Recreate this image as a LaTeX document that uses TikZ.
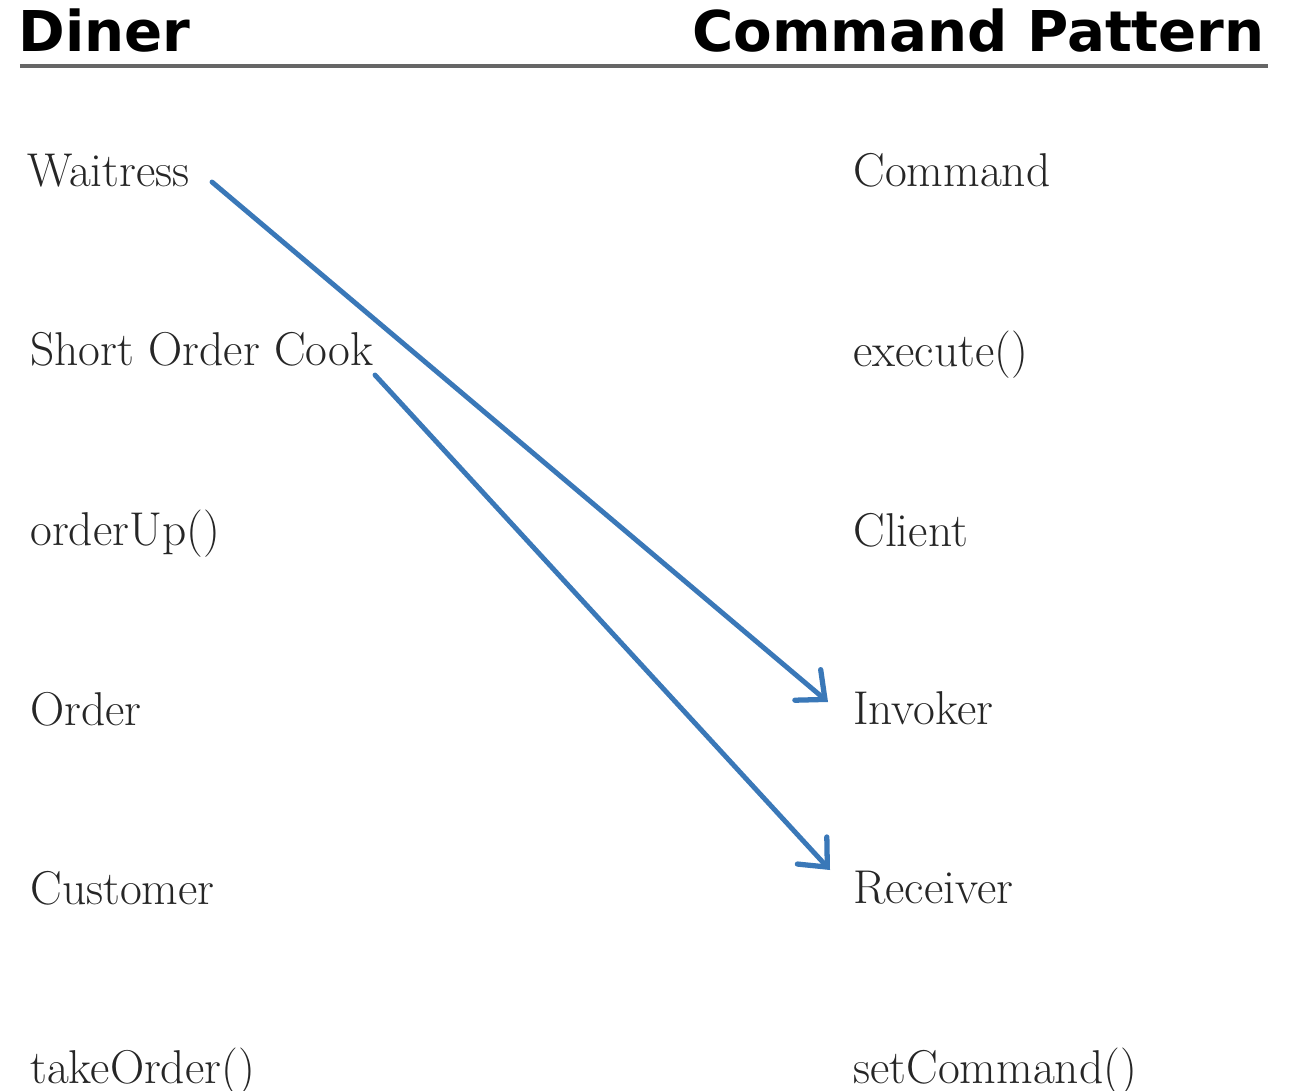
\documentclass[tikz,border=0pt]{standalone}
\usepackage{fontspec}
\newfontfamily\headfont{DejaVu Sans}
\usepackage{tikz}
\usetikzlibrary{arrows.meta}

\begin{document}
\begin{tikzpicture}[
		head_style/.style={anchor=base west,inner sep=0pt,font=\headfont\bfseries\fontsize{32}{36}\selectfont},
		item_style/.style={anchor=base west,inner sep=0pt,text=black!85,font=\fontsize{27}{30}\selectfont},
		map_style/.style={draw={rgb,255:red,58;green,120;blue,184},line width=2.8pt,line cap=round,
			-{Straight Barb[length=4.5mm,width=8mm,line width=3pt,line cap=round]}}]

		\useasboundingbox (0,0) rectangle (25.8,-21.82);

		% headings
		\node[head_style] (diner) at (0.36,-1.04) {Diner};
		\node[head_style,anchor=base east] (pattern) at (25.3,-1.04) {Command Pattern};
		\draw[line width=2.3pt,draw=black!60] (0.4,-1.32) -- (25.36,-1.32);

		% diner column
		\node[item_style] (waitress) at (0.54,-3.72)  {Waitress};
		\node[item_style] (cook)     at (0.6,-7.3)    {Short Order Cook};
		\node[item_style] (orderup)  at (0.6,-10.9)   {orderUp()};
		\node[item_style] (order)    at (0.6,-14.5)   {Order};
		\node[item_style] (customer) at (0.6,-18.08)  {Customer};
		\node[item_style] (takeorder) at (0.6,-21.66) {takeOrder()};

		% command pattern column
		\node[item_style] (command)  at (17.06,-3.72)  {Command};
		\node[item_style] (execute)  at (17.06,-7.32)  {execute()};
		\node[item_style] (client)   at (17.06,-10.92) {Client};
		\node[item_style] (invoker)  at (17.06,-14.48) {Invoker};
		\node[item_style] (receiver) at (17.06,-18.06) {Receiver};
		\node[item_style] (setcommand) at (17.06,-21.66) {setCommand()};

		% arrow ends
		\coordinate (w0) at (4.24,-3.64);
		\coordinate (w1) at (16.56,-14.04);
		\coordinate (c0) at (7.5,-7.5);
		\coordinate (c1) at (16.6,-17.4);

		\draw[map_style] (w0) -- (w1);
		\draw[map_style] (c0) -- (c1);

\end{tikzpicture}
\end{document}
